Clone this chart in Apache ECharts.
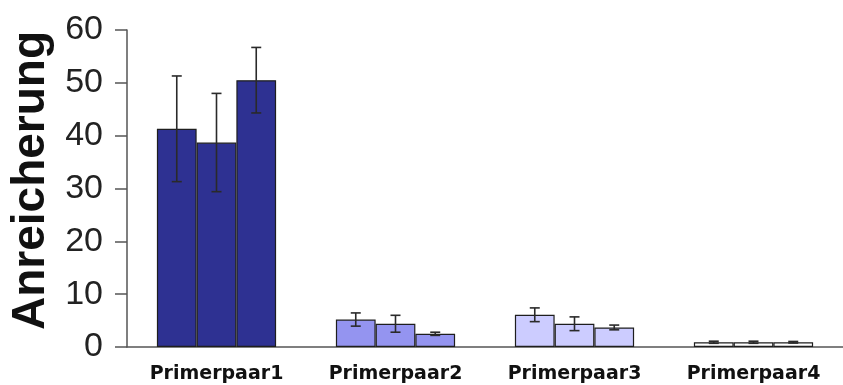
<!DOCTYPE html>
<html><head><meta charset="utf-8">
<script src="https://cdn.jsdelivr.net/npm/echarts@6/dist/echarts.min.js"></script>
<style>html,body{margin:0;padding:0;background:#fff}#c{width:843px;height:385px}</style>
</head><body><div id="c"></div>
<script>
const categories = ['Primerpaar1', 'Primerpaar2', 'Primerpaar3', 'Primerpaar4'];
const series1 = [41.3, 5.2, 6.1, 0.9];
const series2 = [38.7, 4.4, 4.4, 0.9];
const series3 = [50.5, 2.5, 3.7, 0.9];
const err1 = [10.0, 1.25, 1.3, 0.2];
const err2 = [9.3, 1.6, 1.3, 0.2];
const err3 = [6.2, 0.3, 0.45, 0.15];
const yTicks = [0, 10, 20, 30, 40, 50, 60];

const catColors = ['#2e3192', '#9494f0', '#ccccff', '#ffffff'];
const GAP = 0.334;
const allVals = [series1, series2, series3];
const allErr = [err1, err2, err3];

function barSeries(vals) {
  return {
    type: 'bar',
    barGap: '0%',
    barCategoryGap: (GAP * 100) + '%',
    data: vals.map((v, i) => ({ value: v, itemStyle: { color: catColors[i] } })),
    itemStyle: { borderColor: '#1e1e1e', borderWidth: 1.2 },
    silent: true
  };
}

function errSeries(k) {
  const data = categories.map((c, i) => [i, allVals[k][i], allErr[k][i]]);
  return {
    type: 'custom',
    silent: true,
    z: 5,
    renderItem: function (params, api) {
      const i = api.value(0);
      const v = api.value(1);
      const e = api.value(2);
      const band = api.size([1, 0])[0];
      const bw = band * (1 - GAP) / 3;
      const c = api.coord([i, v]);
      const x = c[0] + (k - 1) * bw;
      const top = api.coord([i, v + e])[1];
      const bot = api.coord([i, v - e])[1];
      const hw = 5;
      const st = { stroke: '#2a2a2a', lineWidth: 1.6 };
      return {
        type: 'group',
        children: [
          { type: 'line', shape: { x1: x, y1: top, x2: x, y2: bot }, style: st },
          { type: 'line', shape: { x1: x - hw, y1: top, x2: x + hw, y2: top }, style: st },
          { type: 'line', shape: { x1: x - hw, y1: bot, x2: x + hw, y2: bot }, style: st }
        ]
      };
    },
    data: data
  };
}

const chart = echarts.init(document.getElementById('c'));
chart.setOption({
  animation: false,
  grid: { left: 127, right: -5, top: 30, bottom: 38, containLabel: false },
  xAxis: {
    type: 'category',
    data: categories,
    axisLine: { lineStyle: { color: '#555', width: 1.5 } },
    axisTick: { length: 10, lineStyle: { color: '#555', width: 1.5 } },
    axisLabel: { margin: 18, color: '#111', fontFamily: 'DejaVu Sans', fontWeight: 'bold', fontSize: 19 }
  },
  yAxis: {
    type: 'value',
    min: yTicks[0],
    max: yTicks[yTicks.length - 1],
    interval: 10,
    name: 'Anreicherung',
    nameLocation: 'middle',
    nameGap: 70,
    nameTextStyle: { fontFamily: 'Liberation Sans', fontWeight: 'bold', fontSize: 46, color: '#111', padding: [0, 0, 0, 16] },
    axisLine: { show: true, lineStyle: { color: '#555', width: 1.5 } },
    axisTick: { show: true, length: 12, lineStyle: { color: '#555', width: 1.5 } },
    splitLine: { show: false },
    axisLabel: { margin: 24, color: '#222', fontFamily: 'Liberation Sans', fontSize: 34 }
  },
  series: [barSeries(series1), barSeries(series2), barSeries(series3), errSeries(0), errSeries(1), errSeries(2)]
});
</script></body></html>
